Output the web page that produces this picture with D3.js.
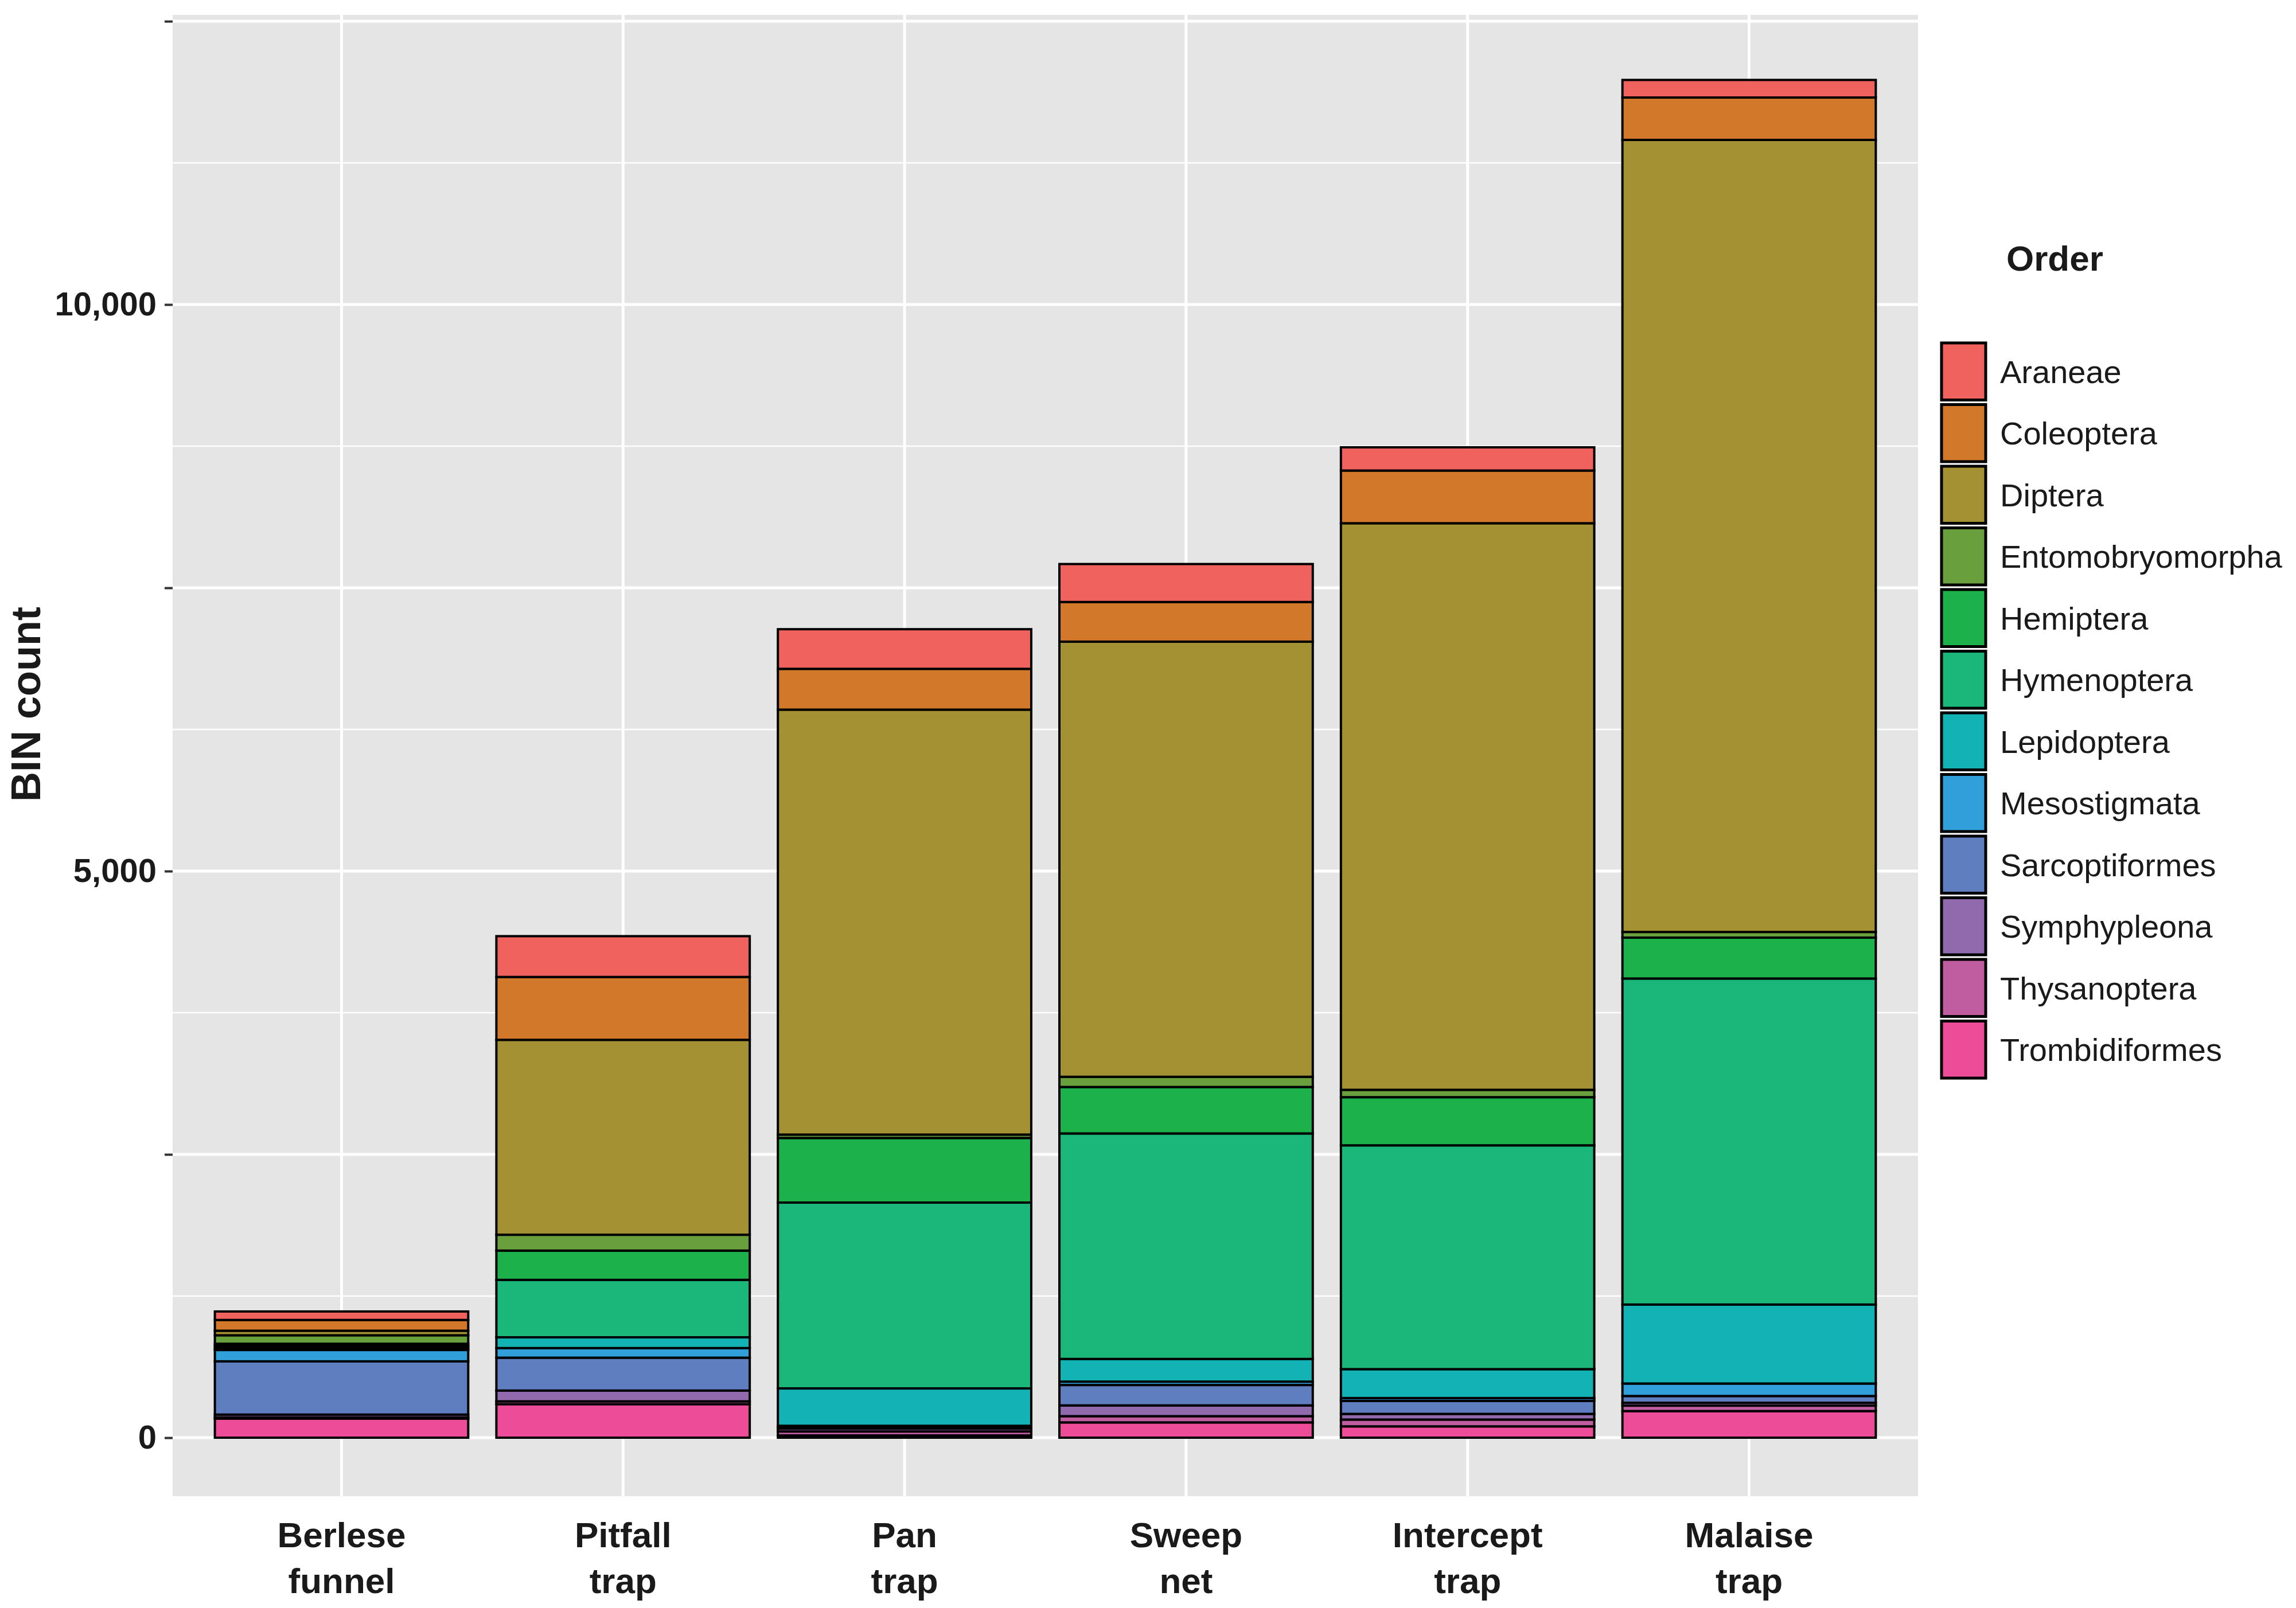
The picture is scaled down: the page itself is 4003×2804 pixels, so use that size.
<!DOCTYPE html>
<html>
<head>
<meta charset="utf-8">
<script src="https://cdn.jsdelivr.net/npm/d3@7"></script>
<style>
  body { margin: 0; background: #fff; }
  text { font-family: "Liberation Sans", Arial, sans-serif; fill: #1a1a1a; }
</style>
</head>
<body>
<svg id="chart" width="4003" height="2804"></svg>
<script>
// categories (x) and orders (stack, bottom to top is reverse of legend)
const methods = ["Berlese funnel", "Pitfall trap", "Pan trap", "Sweep net", "Intercept trap", "Malaise trap"];
const orders = ["Araneae", "Coleoptera", "Diptera", "Entomobryomorpha", "Hemiptera", "Hymenoptera",
  "Lepidoptera", "Mesostigmata", "Sarcoptiformes", "Symphypleona", "Thysanoptera", "Trombidiformes"];
const colors = ["#F0625E", "#D2782A", "#A49133", "#6A9F3E", "#1DB14B", "#1BB67A",
  "#12B2B5", "#319FD9", "#5E7EBF", "#9169AD", "#C05CA0", "#EC4C98"];

// BIN counts per order, one value per method (same order as methods)
const araneae        = [75, 360, 350, 335, 205, 155];
const coleoptera     = [95, 555, 360, 350, 465, 374];
const diptera        = [40, 1720, 3750, 3840, 5000, 6990];
const entomobryo     = [75, 140, 30, 90, 65, 50];
const hemiptera      = [20, 258, 570, 410, 425, 361];
const hymenoptera    = [20, 507, 1640, 1990, 1975, 2877];
const lepidoptera    = [15, 95, 330, 200, 255, 697];
const mesostigmata   = [100, 85, 10, 30, 25, 110];
const sarcoptiformes = [470, 290, 15, 180, 115, 60];
const symphypleona   = [25, 95, 25, 95, 50, 25];
const thysanoptera   = [10, 25, 35, 55, 60, 48];
const trombidiformes = [169, 296, 20, 135, 100, 235];
const series = [araneae, coleoptera, diptera, entomobryo, hemiptera, hymenoptera,
  lepidoptera, mesostigmata, sarcoptiformes, symphypleona, thysanoptera, trombidiformes];

const yTicks = [0, 2500, 5000, 7500, 10000, 12500];
const yLabels = {0: "0", 5000: "5,000", 10000: "10,000"};

const svg = d3.select("#chart");
const L = 301, R = 3344, T = 26, B = 2609;

const rows = methods.map((m, i) => {
  const r = {method: m};
  orders.forEach((o, j) => r[o] = series[j][i]);
  return r;
});
// stack from the bottom: Trombidiformes first
const stack = d3.stack().keys(orders.slice().reverse())(rows);

const step = (R - L) / 6.2;
const x = d3.scaleBand().domain(methods)
  .range([L + 0.1 * step, R - 0.1 * step]).paddingInner(0.1).paddingOuter(0.05);
const y = d3.scaleLinear().domain([-516, 12556]).range([B, T]);

// panel
svg.append("rect").attr("x", L).attr("y", T).attr("width", R - L).attr("height", B - T).attr("fill", "#E5E5E5");

// minor grid
d3.range(-1250, 12600, 1250).filter(v => v % 2500 !== 0 && y(v) > T && y(v) < B).forEach(v => {
  svg.append("line").attr("x1", L).attr("x2", R).attr("y1", y(v)).attr("y2", y(v))
    .attr("stroke", "#fff").attr("stroke-width", 2.5);
});
// major grid
yTicks.forEach(v => {
  svg.append("line").attr("x1", L).attr("x2", R).attr("y1", y(v)).attr("y2", y(v))
    .attr("stroke", "#fff").attr("stroke-width", 5);
});
methods.forEach(m => {
  const cx = x(m) + x.bandwidth() / 2;
  svg.append("line").attr("x1", cx).attr("x2", cx).attr("y1", T).attr("y2", B)
    .attr("stroke", "#fff").attr("stroke-width", 5);
});

// bars
const colorOf = d3.scaleOrdinal().domain(orders).range(colors);
svg.append("g").selectAll("g").data(stack).join("g")
  .attr("fill", d => colorOf(d.key))
  .selectAll("rect").data(d => d).join("rect")
  .attr("x", d => x(d.data.method))
  .attr("width", x.bandwidth())
  .attr("y", d => y(d[1]))
  .attr("height", d => y(d[0]) - y(d[1]))
  .attr("stroke", "#000").attr("stroke-width", 4);

// y axis
const yAxis = svg.append("g").attr("transform", `translate(${L},0)`)
  .call(d3.axisLeft(y).tickValues(yTicks).tickSize(14).tickPadding(14).tickFormat(v => yLabels[v] || ""));
yAxis.select(".domain").remove();
yAxis.selectAll("line").attr("stroke", "#333").attr("stroke-width", 4);
yAxis.selectAll("text").attr("font-size", 58).attr("font-weight", "bold")
  .attr("font-family", "Liberation Sans, Arial, sans-serif").attr("fill", "#1a1a1a");

svg.append("text").attr("transform", `translate(70,1228) rotate(-90)`)
  .attr("text-anchor", "middle").attr("font-size", 72).attr("font-weight", "bold").text("BIN count");

// x labels
methods.forEach(m => {
  const cx = x(m) + x.bandwidth() / 2;
  const parts = m.split(" ");
  parts.forEach((p, k) => {
    svg.append("text").attr("x", cx).attr("y", 2698 + k * 80)
      .attr("text-anchor", "middle").attr("font-size", 62).attr("font-weight", "bold").text(p);
  });
});

// legend
svg.append("text").attr("x", 3498).attr("y", 472).attr("font-size", 62).attr("font-weight", "bold").text("Order");
const keyH = 107.5, keyTop = 594;
orders.forEach((o, i) => {
  const ky = keyTop + i * keyH;
  svg.append("rect").attr("x", 3385).attr("y", ky + 4).attr("width", 77).attr("height", keyH - 8)
    .attr("fill", colors[i]).attr("stroke", "#000").attr("stroke-width", 5);
  svg.append("text").attr("x", 3487).attr("y", ky + keyH / 2 + 20).attr("font-size", 56).text(o);
});
</script>
</body>
</html>
